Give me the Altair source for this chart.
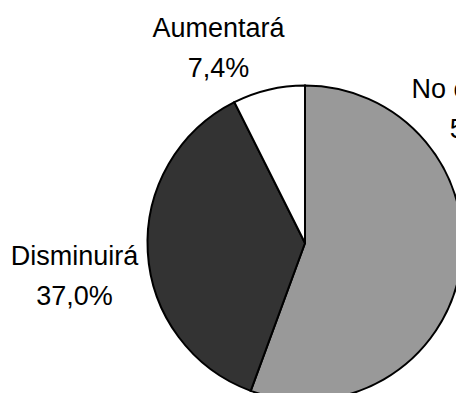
import altair as alt
import pandas as pd

categories = ["No cambiará", "Disminuirá", "Aumentará"]
values = [55.6, 37.0, 7.4]
colors = ["#999999", "#333333", "#FFFFFF"]

df = pd.DataFrame({
    "category": categories,
    "value": values,
    "order": list(range(len(categories))),
})

# Layout (page px minus the 8px margin)
CX, CY, R = 297, 235, 157.5
label_layout = {
    "Aumentará": (210.5, 29),
    "Disminuirá": (66.5, 257),
    "No cambiará": (480, 90),
}
LINE = 40
FONT = "Arial, Liberation Sans"
FS = 27

pie = alt.Chart(df).mark_arc(
    radius=R, stroke="black", strokeWidth=2
).encode(
    theta=alt.Theta("value:Q", stack=True),
    color=alt.Color("category:N", scale=alt.Scale(domain=categories, range=colors), legend=None),
    order=alt.Order("order:Q"),
    x=alt.value(CX),
    y=alt.value(CY),
)

layers = [pie]
for cat, val in zip(categories, values):
    lx, ly = label_layout[cat]
    pct = f"{val:.1f}".replace(".", ",") + "%"
    sub = pd.DataFrame({"line1": [cat], "line2": [pct]})
    for field, yy in (("line1", ly), ("line2", ly + LINE)):
        layers.append(
            alt.Chart(sub).mark_text(
                font=FONT, fontSize=FS, color="black", align="center", baseline="alphabetic"
            ).encode(
                text=f"{field}:N",
                x=alt.value(lx),
                y=alt.value(yy),
            )
        )

chart = alt.layer(*layers).properties(
    width=448, height=385, padding=0, autosize=alt.AutoSizeParams(type="none")
).configure_view(stroke=None)

chart.save("out.html", embed_options={"renderer": "svg", "actions": False})
